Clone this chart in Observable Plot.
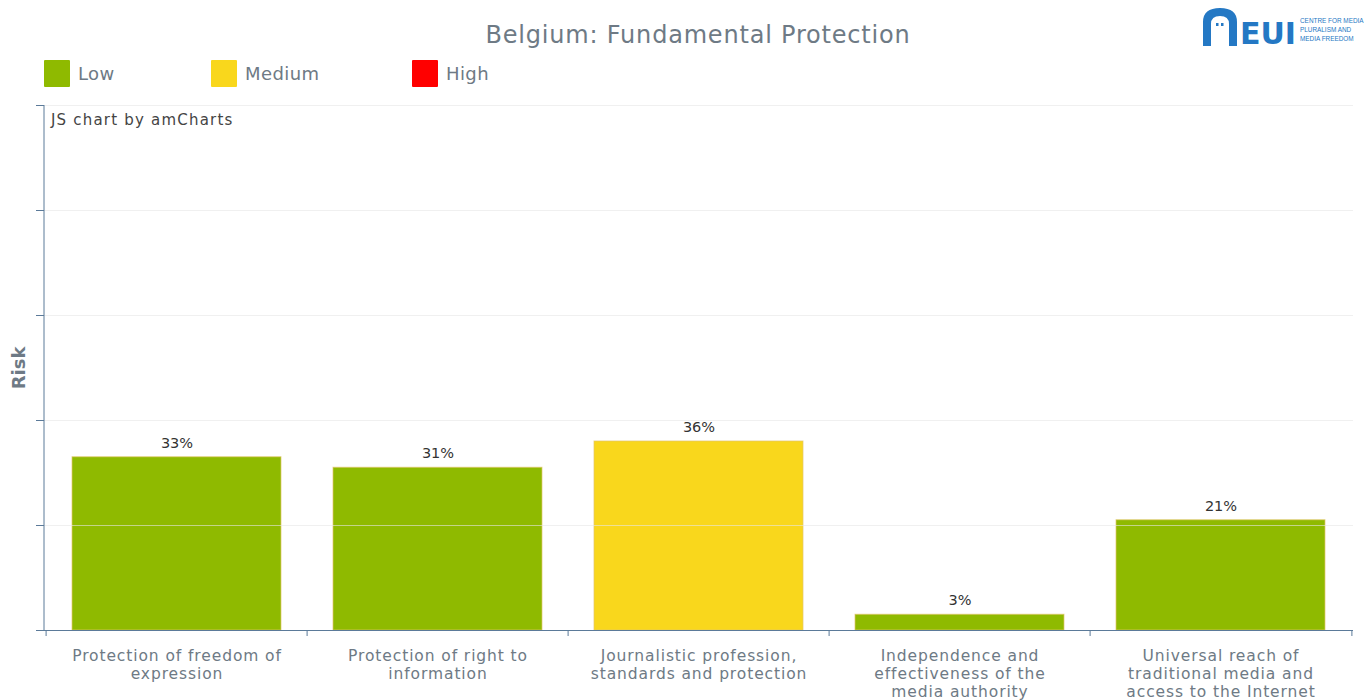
<!DOCTYPE html>
<html>
<head>
<meta charset="utf-8">
<script src="https://cdn.jsdelivr.net/npm/d3@7"></script>
<script src="https://cdn.jsdelivr.net/npm/@observablehq/plot@0.6"></script>
<style>
  body { margin: 0; background: #fff; font-family: "DejaVu Sans", Verdana, sans-serif; }
  #wrap { position: relative; width: 1365px; height: 700px; overflow: hidden; }
  #title { position: absolute; top: 21px; left: 0; width: 1396px; text-align: center; font-size: 24px; letter-spacing: 0.8px; color: #6e7a85; }
  .leg { position: absolute; top: 60px; height: 27px; display: flex; align-items: center; font-size: 18px; letter-spacing: 0.4px; color: #6e7a85; }
  .leg span.sw { display: inline-block; width: 26px; height: 27px; margin-right: 8px; border-radius: 1px; }
  #credit { position: absolute; left: 51px; top: 111px; font-size: 15px; letter-spacing: 1.2px; color: #444; }
  #chart { position: absolute; left: 0; top: 95px; }
  #logo { position: absolute; left: 1200px; top: 4px; }
  [aria-label="y-axis label"] text { font-weight: bold; font-size: 18px; fill: #6e7a85; }
  [aria-label="x-axis tick label"] text { letter-spacing: 0.9px; }
</style>
</head>
<body>
<div id="wrap">
  <div id="title"></div>
  <div id="legend"></div>
  <div id="credit">JS chart by amCharts</div>
  <svg id="logo" width="164" height="52" viewBox="0 0 164 52">
    <path d="M3 42 V18 Q3 4 20 4 Q37 4 37 18 V42 H29 V20 Q29 12 20 12 Q11 12 11 20 V42 Z" fill="#2478c4"/>
    <rect x="16" y="19" width="2.5" height="3" fill="#2478c4"/>
    <rect x="21" y="19" width="2.5" height="3" fill="#2478c4"/>
    <text x="40" y="40" font-family="DejaVu Sans" font-weight="bold" font-size="31" fill="#2478c4" textLength="56" lengthAdjust="spacingAndGlyphs">EUI</text>
    <text x="100" y="19" font-family="Liberation Sans, Arial, sans-serif" font-size="6.4" fill="#2478c4">CENTRE FOR MEDIA</text>
    <text x="100" y="28" font-family="Liberation Sans, Arial, sans-serif" font-size="6.4" fill="#2478c4">PLURALISM AND</text>
    <text x="100" y="37" font-family="Liberation Sans, Arial, sans-serif" font-size="6.4" fill="#2478c4">MEDIA FREEDOM</text>
  </svg>
  <div id="chart"></div>
</div>
<script>
const titleText = "Belgium: Fundamental Protection";
const categories = [
  "Protection of freedom of\nexpression",
  "Protection of right to\ninformation",
  "Journalistic profession,\nstandards and protection",
  "Independence and\neffectiveness of the\nmedia authority",
  "Universal reach of\ntraditional media and\naccess to the Internet"
];
const values = [33, 31, 36, 3, 21];
const riskLevels = ["Low", "Low", "Medium", "Low", "Low"];
const legendLabels = ["Low", "Medium", "High"];
const legendColors = ["#8fba00", "#f9d71c", "#ff0000"];
const yTicks = [0, 20, 40, 60, 80, 100];
const yLabel = "Risk";

document.getElementById("title").textContent = titleText;

const legendX = [44, 211, 412];
const legend = document.getElementById("legend");
legendLabels.forEach((l, i) => {
  const d = document.createElement("div");
  d.className = "leg";
  d.style.left = legendX[i] + "px";
  d.innerHTML = `<span class="sw" style="background:${legendColors[i]}"></span>${l}`;
  legend.appendChild(d);
});

const data = categories.map((c, i) => ({cat: c, value: values[i], risk: riskLevels[i]}));

const W = 1365, H = 605, mL = 44, mR = 12, mT = 10, mB = 70;
const step = (W - mL - mR) / categories.length;
const axisColor = "#5b7a99";
const textColor = "#6e7a85";

// left axis line drawn at the plot's left edge
const yAxisLine = (index, scales, values, dims) => {
  const g = d3.create("svg:line")
    .attr("x1", dims.marginLeft).attr("x2", dims.marginLeft)
    .attr("y1", dims.marginTop).attr("y2", dims.height - dims.marginBottom)
    .attr("stroke", axisColor);
  return g.node();
};

const chart = Plot.plot({
  width: W, height: H,
  marginLeft: mL, marginRight: mR, marginTop: mT, marginBottom: mB,
  style: {fontFamily: "DejaVu Sans, Verdana, sans-serif", background: "transparent"},
  x: {domain: categories, paddingInner: 0.2, paddingOuter: 0.1, label: null},
  y: {domain: [0, 100], label: null},
  color: {domain: legendLabels, range: legendColors},
  marks: [
    Plot.barY(data, {x: "cat", y: "value", fill: "risk", stroke: "#e3c46a", strokeWidth: 1, strokeOpacity: 0.7}),
    Plot.gridY(yTicks, {stroke: "#e6e6e6", strokeOpacity: 0.6}),
    Plot.text(data, {x: "cat", y: "value", text: d => d.value + "%", dy: -14, fontSize: 14.5, fill: "#333"}),
    Plot.axisY(yTicks, {tickSize: 8, tickFormat: () => "", stroke: axisColor, label: yLabel, labelAnchor: "center", labelArrow: "none", labelOffset: 32}),
    yAxisLine,
    Plot.axisX(categories, {tickSize: 0, tickPadding: 18, fontSize: 15.5, fill: textColor, lineHeight: 1.16, label: null}),
    Plot.axisX(categories, {tickSize: 6, tickFormat: () => "", stroke: axisColor, dx: -step / 2, label: null}),
    Plot.axisX([categories[categories.length - 1]], {tickSize: 6, tickFormat: () => "", stroke: axisColor, dx: step / 2, label: null}),
    Plot.ruleY([0], {stroke: axisColor})
  ]
});
document.getElementById("chart").appendChild(chart);
</script>
</body>
</html>
